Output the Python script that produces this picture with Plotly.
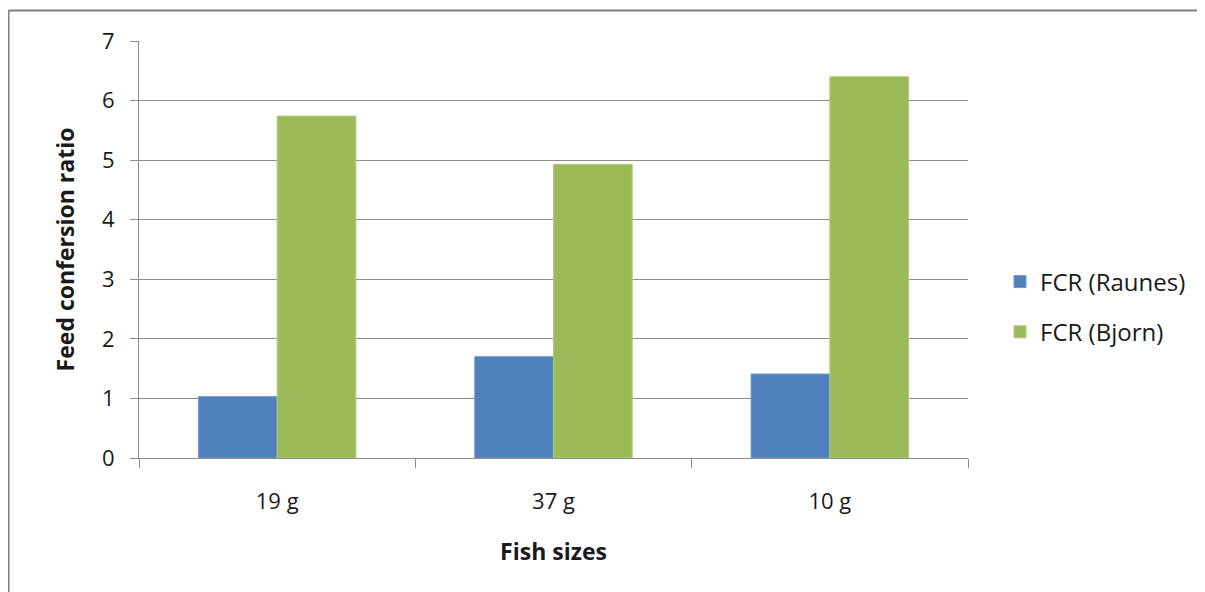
import plotly.graph_objects as go

# chart data
fish_sizes = ["19 g", "37 g", "10 g"]
fcr_raunes = [1.03, 1.70, 1.41]
fcr_bjorn = [5.74, 4.93, 6.40]
y_ticks = [0, 1, 2, 3, 4, 5, 6, 7]

FONT = "'Open Sans', 'Noto Sans', sans-serif"
GRID = "#8c8c8c"

fig = go.Figure()
fig.add_trace(
    go.Bar(
        name="FCR (Raunes)",
        x=fish_sizes,
        y=fcr_raunes,
        marker=dict(color="#4F81BD", line=dict(color="#6e97c9", width=1)),
        legendgroup="a",
    )
)
fig.add_trace(
    go.Bar(
        name="FCR (Bjorn)",
        x=fish_sizes,
        y=fcr_bjorn,
        marker=dict(color="#9BBB59", line=dict(color="#b3cc80", width=1)),
        legendgroup="b",
    )
)

# page body has an 8px margin, so the figure is placed 8px in from the corner
W, H = 1197, 584
ml, mt = 131, 33
mr, mb = W - 960, H - 450
pw, ph = W - ml - mr, H - mt - mb

fig.update_layout(
    width=W,
    height=H,
    margin=dict(l=ml, r=mr, t=mt, b=mb),
    paper_bgcolor="white",
    plot_bgcolor="white",
    font=dict(family=FONT, size=22, color="#1a1a1a"),
    barmode="group",
    bargap=0.43,
    bargroupgap=0,
    showlegend=True,
    legend=dict(
        x=1 + (992 - 960) / pw,
        xanchor="left",
        y=1 - (299 - mt) / ph,
        yanchor="middle",
        font=dict(size=24),
        tracegroupgap=16,
        itemwidth=30,
    ),
)

fig.update_xaxes(
    type="category",
    tickson="boundaries",
    showgrid=False,
    showline=True,
    linecolor=GRID,
    linewidth=1,
    ticks="outside",
    ticklen=9,
    tickcolor=GRID,
    ticklabelstandoff=24,
    tickfont=dict(size=22),
    title=dict(text="<b>Fish sizes</b>", font=dict(size=23), standoff=29),
)
fig.update_yaxes(
    range=[0, 7],
    tickvals=y_ticks,
    showgrid=True,
    gridcolor=GRID,
    gridwidth=1,
    showline=True,
    linecolor=GRID,
    linewidth=1,
    ticks="outside",
    ticklen=8,
    tickcolor=GRID,
    ticklabelstandoff=11,
    tickfont=dict(size=22),
    zeroline=False,
    title=dict(text="<b>Feed confersion ratio</b>", font=dict(size=23), standoff=20),
)

# outer chart border (only top and left edges visible in the crop)
bx = (0.5 - ml) / pw
by = 1 + (mt - 2.5) / ph
fig.add_shape(type="line", xref="paper", yref="paper", x0=bx, x1=1.5, y0=by, y1=by,
              line=dict(color="#7f7f7f", width=2))
fig.add_shape(type="line", xref="paper", yref="paper", x0=bx, x1=bx, y0=by, y1=-0.6,
              line=dict(color="#7f7f7f", width=2))

fig.write_html("out.html")
